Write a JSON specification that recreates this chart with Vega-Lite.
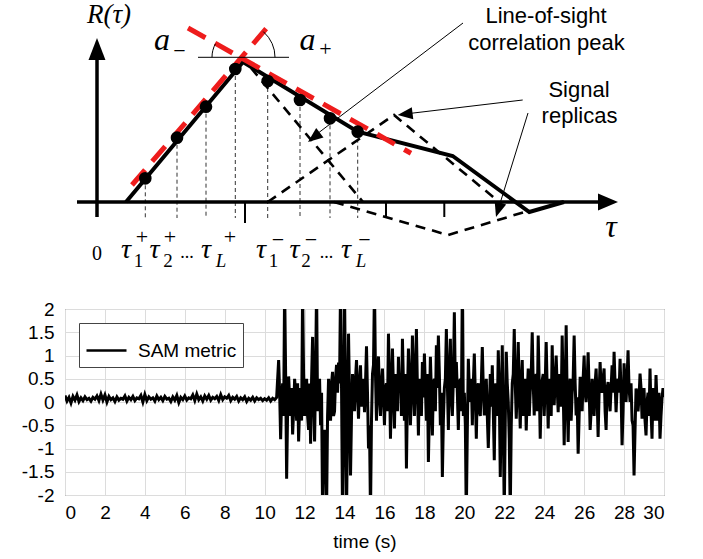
{
"$schema":"https://vega.github.io/schema/vega-lite/v6.json",
"padding":0,
"spacing":24,
"config":{"view":{"stroke":null},"font":"Liberation Sans"},
"resolve":{"legend":{"color":"independent"}},
"datasets":{
"drops":[{"u":48.3,"v":23.7,"v2":-16},{"u":80,"v":64.3,"v2":-16},{"u":109,"v":95.3,"v2":-16},{"u":138.3,"v":133,"v2":-16},{"u":170.7,"v":121,"v2":-16},{"u":203,"v":102,"v2":-16},{"u":233,"v":83.7,"v2":-16},{"u":260.7,"v":70.3,"v2":-16}],
"dots":[{"u":48.3,"v":23.7},{"u":80,"v":64.3},{"u":109,"v":95.3},{"u":138.3,"v":133},{"u":170.7,"v":121},{"u":203,"v":102},{"u":233,"v":83.7},{"u":260.7,"v":70.3}],
"curve":[{"u":29,"v":0},{"u":146,"v":140},{"u":260.7,"v":70.3},{"u":355.7,"v":46},{"u":432.3,"v":-10},{"u":467,"v":0}],
"replica":[{"id":"r1","u":154,"v":134},{"id":"r1","u":266,"v":0},{"id":"r2","u":170.7,"v":0},{"id":"r2","u":297,"v":87},{"id":"r2","u":401,"v":1},{"id":"r3","u":237,"v":0},{"id":"r3","u":351,"v":-33},{"id":"r3","u":431,"v":-9}],
"red":[{"u":35,"v":17,"u2":174,"v2":179},{"u":91,"v":174,"u2":314,"v2":48.7}],
"axes":[{"u":0,"v":-15,"u2":0,"v2":152},{"u":-20,"v":0,"u2":504,"v2":0}],
"ticks":[{"u":148,"v":0,"v2":-21},{"u":289,"v":0,"v2":-15},{"u":347.3,"v":0,"v2":-15}],
"thin":[{"u":366,"v":179,"u2":216,"v2":65},{"u":425.7,"v":102,"u2":308,"v2":88},{"u":431,"v":89,"u2":401,"v2":-8},{"u":101,"v":144.7,"u2":192,"v2":144.7}],
"arcs":[{"id":"l","k":0,"u":115,"v":144.7},{"id":"l","k":1,"u":115.2,"v":148.1},{"id":"l","k":2,"u":115.8,"v":151.5},{"id":"l","k":3,"u":117,"v":155.2},{"id":"l","k":4,"u":118.5,"v":158.3},{"id":"r","k":0,"u":178,"v":144.7},{"id":"r","k":1,"u":177.3,"v":151.8},{"id":"r","k":2,"u":175.1,"v":158.5},{"id":"r","k":3,"u":171.5,"v":164.7},{"id":"r","k":4,"u":166.3,"v":170.4}],
"heads":[{"id":"up","u":0,"v":153},{"id":"right","u":511,"v":0},{"id":"a1","u":308.1,"v":87.9},{"id":"a2","u":401.2,"v":-7.8},{"id":"a3","u":216.9,"v":64.6}],
"txt":[
{"g":"R","u":12,"v":178.7,"t":"R(τ)"},
{"g":"a","u":65,"v":152,"t":"a"},{"g":"a","u":210.5,"v":152,"t":"a"},
{"g":"asub","u":82.5,"v":151,"t":"−"},{"g":"asub","u":228.5,"v":153,"t":"+"},
{"g":"zero","u":0,"v":-58,"t":"0"},
{"g":"tau","u":29,"v":-56,"t":"τ"},{"g":"tau","u":57.5,"v":-56,"t":"τ"},{"g":"tau","u":109,"v":-56,"t":"τ"},{"g":"tau","u":164,"v":-56,"t":"τ"},{"g":"tau","u":197.5,"v":-56,"t":"τ"},{"g":"tau","u":249,"v":-56,"t":"τ"},
{"g":"sub","u":41.5,"v":-65,"t":"1"},{"g":"sub","u":71,"v":-65,"t":"2"},{"g":"sub","u":176.5,"v":-65,"t":"1"},{"g":"sub","u":209,"v":-65,"t":"2"},
{"g":"subL","u":124,"v":-65,"t":"L"},{"g":"subL","u":264,"v":-65,"t":"L"},
{"g":"sup","u":45,"v":-34.5,"t":"+"},{"g":"sup","u":73,"v":-34.5,"t":"+"},{"g":"sup","u":133,"v":-34.5,"t":"+"},{"g":"sup","u":181,"v":-38,"t":"−"},{"g":"sup","u":214,"v":-38,"t":"−"},{"g":"sup","u":267.5,"v":-38,"t":"−"},
{"g":"dd","u":90,"v":-56,"t":"..."},{"g":"dd","u":229.5,"v":-56,"t":"..."},
{"g":"tauax","u":514,"v":-34.7,"t":"τ"},
{"g":"sans","u":449,"v":178.7,"t":"Line-of-sight"},{"g":"sans","u":449.5,"v":152,"t":"correlation peak"},{"g":"sans","u":482,"v":105.3,"t":"Signal"},{"g":"sans","u":482.5,"v":78.7,"t":"replicas"}
],
"sam":[
{"t":0.0,"y":0.14},{"t":0.1,"y":0.02},{"t":0.2,"y":0.10},{"t":0.3,"y":-0.02},{"t":0.4,"y":0.12},{"t":0.5,"y":0.04},{"t":0.6,"y":0.15},{"t":0.7,"y":0.01},{"t":0.8,"y":0.09},{"t":0.9,"y":0.03},
{"t":1.0,"y":0.11},{"t":1.1,"y":0.05},{"t":1.2,"y":0.08},{"t":1.3,"y":0.02},{"t":1.4,"y":0.10},{"t":1.5,"y":0.06},{"t":1.6,"y":0.13},{"t":1.7,"y":0.03},{"t":1.8,"y":0.17},{"t":1.9,"y":0.04},
{"t":2.0,"y":0.15},{"t":2.1,"y":0.00},{"t":2.2,"y":0.12},{"t":2.3,"y":0.05},{"t":2.4,"y":0.09},{"t":2.5,"y":0.01},{"t":2.6,"y":0.11},{"t":2.7,"y":0.04},{"t":2.8,"y":0.08},{"t":2.9,"y":0.06},
{"t":3.0,"y":0.13},{"t":3.1,"y":0.02},{"t":3.2,"y":0.10},{"t":3.3,"y":0.05},{"t":3.4,"y":0.12},{"t":3.5,"y":0.03},{"t":3.6,"y":0.09},{"t":3.7,"y":0.07},{"t":3.8,"y":0.14},{"t":3.9,"y":0.00},
{"t":4.0,"y":0.16},{"t":4.1,"y":0.03},{"t":4.2,"y":0.11},{"t":4.3,"y":0.06},{"t":4.4,"y":0.09},{"t":4.5,"y":0.02},{"t":4.6,"y":0.13},{"t":4.7,"y":0.05},{"t":4.8,"y":0.10},{"t":4.9,"y":0.03},
{"t":5.0,"y":0.12},{"t":5.1,"y":0.06},{"t":5.2,"y":0.08},{"t":5.3,"y":0.01},{"t":5.4,"y":0.11},{"t":5.5,"y":0.04},{"t":5.6,"y":0.14},{"t":5.7,"y":-0.01},{"t":5.8,"y":0.10},{"t":5.9,"y":0.05},
{"t":6.0,"y":0.13},{"t":6.1,"y":0.04},{"t":6.2,"y":0.09},{"t":6.3,"y":0.07},{"t":6.4,"y":0.15},{"t":6.5,"y":0.03},{"t":6.6,"y":0.17},{"t":6.7,"y":0.05},{"t":6.8,"y":0.11},{"t":6.9,"y":0.02},
{"t":7.0,"y":0.13},{"t":7.1,"y":0.06},{"t":7.2,"y":0.14},{"t":7.3,"y":0.04},{"t":7.4,"y":0.10},{"t":7.5,"y":0.07},{"t":7.6,"y":0.12},{"t":7.7,"y":0.03},{"t":7.8,"y":0.16},{"t":7.9,"y":0.05},
{"t":8.0,"y":0.11},{"t":8.1,"y":0.08},{"t":8.2,"y":0.14},{"t":8.3,"y":0.03},{"t":8.4,"y":0.10},{"t":8.5,"y":0.06},{"t":8.6,"y":0.12},{"t":8.7,"y":0.02},{"t":8.8,"y":0.09},{"t":8.9,"y":0.05},
{"t":9.0,"y":0.11},{"t":9.1,"y":0.01},{"t":9.2,"y":0.08},{"t":9.3,"y":0.04},{"t":9.4,"y":0.10},{"t":9.5,"y":0.02},{"t":9.6,"y":0.09},{"t":9.7,"y":0.05},{"t":9.8,"y":0.08},{"t":9.9,"y":0.03},
{"t":10.0,"y":0.07},{"t":10.1,"y":0.04},{"t":10.2,"y":0.09},{"t":10.3,"y":0.02},{"t":10.4,"y":0.08},{"t":10.5,"y":0.05},{"t":10.6,"y":0.10},
{"t":10.7,"y":0.9},{"t":10.8,"y":-0.8},{"t":10.9,"y":0.4},
{"t":11.0,"y":2.5},{"t":11.1,"y":-1.65},{"t":11.2,"y":0.55},{"t":11.3,"y":-0.3},{"t":11.4,"y":-0.7},{"t":11.5,"y":0.5},{"t":11.6,"y":-0.4},{"t":11.7,"y":-0.85},{"t":11.8,"y":0.3},{"t":11.9,"y":2.4},
{"t":12.0,"y":-0.3},{"t":12.1,"y":0.5},{"t":12.2,"y":-0.6},{"t":12.3,"y":-0.9},{"t":12.4,"y":1.4},{"t":12.5,"y":-0.85},{"t":12.6,"y":2.5},{"t":12.7,"y":0.3},{"t":12.8,"y":-0.5},{"t":12.9,"y":-2.4},
{"t":13.0,"y":-0.6},{"t":13.1,"y":-2.4},{"t":13.2,"y":0.5},{"t":13.3,"y":-0.4},{"t":13.4,"y":0.65},{"t":13.5,"y":-0.2},{"t":13.6,"y":0.8},{"t":13.7,"y":0.85},{"t":13.8,"y":2.5},{"t":13.9,"y":-2.5},
{"t":14.0,"y":2.4},{"t":14.1,"y":-2.4},{"t":14.2,"y":1.47},{"t":14.3,"y":-1.58},{"t":14.4,"y":0.6},{"t":14.5,"y":-0.2},{"t":14.6,"y":0.9},{"t":14.7,"y":-0.36},{"t":14.8,"y":0.79},{"t":14.9,"y":0.3},
{"t":15.0,"y":-0.22},{"t":15.1,"y":1.2},{"t":15.2,"y":-1.0},{"t":15.3,"y":-2.4},{"t":15.4,"y":0.6},{"t":15.5,"y":2.5},{"t":15.6,"y":-0.4},{"t":15.7,"y":0.98},{"t":15.8,"y":-0.3},{"t":15.9,"y":0.72},
{"t":16.0,"y":-0.5},{"t":16.1,"y":0.4},{"t":16.2,"y":1.47},{"t":16.3,"y":-0.79},{"t":16.4,"y":1.15},{"t":16.5,"y":-0.57},{"t":16.6,"y":0.3},{"t":16.7,"y":0.97},{"t":16.8,"y":0.5},{"t":16.9,"y":1.36},
{"t":17.0,"y":-0.4},{"t":17.1,"y":-1.43},{"t":17.2,"y":1.15},{"t":17.3,"y":-0.5},{"t":17.4,"y":1.43},{"t":17.5,"y":-0.3},{"t":17.6,"y":1.57},{"t":17.7,"y":-0.72},{"t":17.8,"y":0.4},{"t":17.9,"y":0.86},
{"t":18.0,"y":1.04},{"t":18.1,"y":-0.4},{"t":18.2,"y":-1.29},{"t":18.3,"y":0.97},{"t":18.4,"y":-0.72},{"t":18.5,"y":0.5},{"t":18.6,"y":1.22},{"t":18.7,"y":1.43},{"t":18.8,"y":-0.5},{"t":18.9,"y":-1.61},
{"t":19.0,"y":0.3},{"t":19.1,"y":1.57},{"t":19.2,"y":-0.6},{"t":19.3,"y":1.36},{"t":19.4,"y":-0.3},{"t":19.5,"y":1.93},{"t":19.6,"y":0.86},{"t":19.7,"y":-0.6},{"t":19.8,"y":0.5},{"t":19.9,"y":2.5},
{"t":20.0,"y":0.2},{"t":20.1,"y":-2.4},{"t":20.2,"y":0.93},{"t":20.3,"y":0.0},{"t":20.4,"y":-0.5},{"t":20.5,"y":1.04},{"t":20.6,"y":-0.79},{"t":20.7,"y":0.4},{"t":20.8,"y":-0.3},{"t":20.9,"y":1.18},
{"t":21.0,"y":-0.29},{"t":21.1,"y":0.5},{"t":21.2,"y":-0.99},{"t":21.3,"y":0.6},{"t":21.4,"y":0.79},{"t":21.5,"y":-1.25},{"t":21.6,"y":0.3},{"t":21.7,"y":1.11},{"t":21.8,"y":-1.61},{"t":21.9,"y":1.22},
{"t":22.0,"y":-2.4},{"t":22.1,"y":1.08},{"t":22.2,"y":0.0},{"t":22.3,"y":-2.4},{"t":22.4,"y":0.4},{"t":22.5,"y":1.57},{"t":22.6,"y":-0.36},{"t":22.7,"y":1.29},{"t":22.8,"y":-0.57},{"t":22.9,"y":0.9},
{"t":23.0,"y":0.2},{"t":23.1,"y":-0.61},{"t":23.2,"y":0.72},{"t":23.3,"y":0.22},{"t":23.4,"y":1.5},{"t":23.5,"y":-0.29},{"t":23.6,"y":0.6},{"t":23.7,"y":1.43},{"t":23.8,"y":-0.79},{"t":23.9,"y":0.47},
{"t":24.0,"y":-0.3},{"t":24.1,"y":1.29},{"t":24.2,"y":-0.57},{"t":24.3,"y":0.4},{"t":24.4,"y":1.22},{"t":24.5,"y":-0.07},{"t":24.6,"y":1.0},{"t":24.7,"y":-0.22},{"t":24.8,"y":0.5},{"t":24.9,"y":1.43},
{"t":25.0,"y":-0.93},{"t":25.1,"y":1.65},{"t":25.2,"y":-0.86},{"t":25.3,"y":0.5},{"t":25.4,"y":0.2},{"t":25.5,"y":1.43},{"t":25.6,"y":-0.29},{"t":25.7,"y":-1.11},{"t":25.8,"y":0.54},{"t":25.9,"y":-0.2},
{"t":26.0,"y":1.0},{"t":26.1,"y":0.0},{"t":26.2,"y":1.07},{"t":26.3,"y":-0.6},{"t":26.4,"y":0.5},{"t":26.5,"y":-0.3},{"t":26.6,"y":0.72},{"t":26.7,"y":-0.75},{"t":26.8,"y":0.86},{"t":26.9,"y":0.2},
{"t":27.0,"y":0.72},{"t":27.1,"y":-0.6},{"t":27.2,"y":0.43},{"t":27.3,"y":-0.2},{"t":27.4,"y":0.79},{"t":27.5,"y":1.08},{"t":27.6,"y":-0.22},{"t":27.7,"y":0.5},{"t":27.8,"y":0.93},{"t":27.9,"y":-0.93},
{"t":28.0,"y":0.83},{"t":28.1,"y":0.0},{"t":28.2,"y":1.11},{"t":28.3,"y":0.0},{"t":28.4,"y":-0.4},{"t":28.5,"y":-1.58},{"t":28.6,"y":0.29},{"t":28.7,"y":-0.2},{"t":28.8,"y":0.61},{"t":28.9,"y":-0.36},
{"t":29.0,"y":0.3},{"t":29.1,"y":-0.72},{"t":29.2,"y":0.2},{"t":29.3,"y":0.72},{"t":29.4,"y":-0.79},{"t":29.5,"y":0.1},{"t":29.6,"y":0.58},{"t":29.7,"y":-0.4},{"t":29.8,"y":-0.79},{"t":29.9,"y":0.08},
{"t":30.0,"y":0.1},
{"t":10.75,"y":0.2},{"t":10.85,"y":0.1},{"t":10.95,"y":-0.3},{"t":11.05,"y":0.6},{"t":11.15,"y":-0.2},{"t":11.25,"y":0.1},{"t":11.35,"y":0.3},{"t":11.45,"y":-0.2},{"t":11.55,"y":0.2},{"t":11.65,"y":0.4},
{"t":11.75,"y":-0.1},{"t":11.85,"y":-0.4},{"t":11.95,"y":0.6},{"t":12.05,"y":0.2},{"t":12.15,"y":-0.3},{"t":12.25,"y":0.4},{"t":12.35,"y":0.5},{"t":12.45,"y":0.1},{"t":12.55,"y":0.6},{"t":12.65,"y":-0.2},
{"t":12.75,"y":0.5},{"t":12.85,"y":0.2},{"t":12.95,"y":-0.9},{"t":13.05,"y":-1.2},{"t":13.15,"y":-0.3},{"t":13.25,"y":0.2},{"t":13.35,"y":0.4},{"t":13.45,"y":-0.3},{"t":13.55,"y":0.5},{"t":13.65,"y":0.2},
{"t":13.75,"y":0.4},{"t":13.85,"y":0.3},{"t":13.95,"y":-0.6},{"t":14.05,"y":0.2},{"t":14.15,"y":-0.5},{"t":14.25,"y":0.1},{"t":14.35,"y":-0.3},{"t":14.45,"y":0.3},{"t":14.55,"y":0.5},{"t":14.65,"y":0.2},
{"t":14.75,"y":0.4},{"t":14.85,"y":-0.1},{"t":14.95,"y":0.5},{"t":15.05,"y":0.4},{"t":15.15,"y":0.2},{"t":15.25,"y":-0.5},{"t":15.35,"y":-0.4},{"t":15.45,"y":0.8},{"t":15.55,"y":0.6},{"t":15.65,"y":0.5},
{"t":15.75,"y":0.1},{"t":15.85,"y":0.4},{"t":15.95,"y":0.1},{"t":16.05,"y":0.3},{"t":16.15,"y":-0.2},{"t":16.25,"y":0.5},{"t":16.35,"y":0.2},{"t":16.45,"y":0.3},{"t":16.55,"y":0.6},{"t":16.65,"y":-0.2},
{"t":16.75,"y":0.3},{"t":16.85,"y":-0.3},{"t":16.95,"y":0.4},{"t":17.05,"y":0.6},{"t":17.15,"y":0.1},{"t":17.25,"y":0.5},{"t":17.35,"y":0.2},{"t":17.45,"y":0.5},{"t":17.55,"y":0.6},{"t":17.65,"y":0.3},
{"t":17.75,"y":0.5},{"t":17.85,"y":-0.3},{"t":17.95,"y":0.1},{"t":18.05,"y":0.3},{"t":18.15,"y":0.6},{"t":18.25,"y":-0.2},{"t":18.35,"y":0.2},{"t":18.45,"y":0.4},{"t":18.55,"y":-0.2},{"t":18.65,"y":0.3},
{"t":18.75,"y":0.6},{"t":18.85,"y":0.2},{"t":18.95,"y":-0.4},{"t":19.05,"y":0.5},{"t":19.15,"y":0.4},{"t":19.25,"y":0.6},{"t":19.35,"y":0.1},{"t":19.45,"y":0.5},{"t":19.55,"y":0.3},{"t":19.65,"y":0.2},
{"t":19.75,"y":0.4},{"t":19.85,"y":-0.2},{"t":19.95,"y":-0.3},{"t":20.05,"y":-0.5},{"t":20.15,"y":-0.6},{"t":20.25,"y":0.3},{"t":20.35,"y":0.5},{"t":20.45,"y":0.4},{"t":20.55,"y":0.2},{"t":20.65,"y":0.3},
{"t":20.75,"y":-0.2},{"t":20.85,"y":0.4},{"t":20.95,"y":0.3},{"t":21.05,"y":0.2},{"t":21.15,"y":-0.3},{"t":21.25,"y":-0.2},{"t":21.35,"y":-0.1},{"t":21.45,"y":-0.2},{"t":21.55,"y":0.4},{"t":21.65,"y":-0.3},
{"t":21.75,"y":0.2},{"t":21.85,"y":-0.1},{"t":21.95,"y":-0.5},{"t":22.05,"y":-0.4},{"t":22.15,"y":0.4},{"t":22.25,"y":-0.8},{"t":22.35,"y":-0.5},{"t":22.45,"y":0.6},{"t":22.55,"y":0.4},{"t":22.65,"y":0.3},
{"t":22.75,"y":0.2},{"t":22.85,"y":0.4},{"t":22.95,"y":-0.3},{"t":23.05,"y":0.5},{"t":23.15,"y":0.2},{"t":23.25,"y":-0.3},{"t":23.35,"y":0.6},{"t":23.45,"y":0.4},{"t":23.55,"y":0.5},{"t":23.65,"y":-0.2},
{"t":23.75,"y":0.4},{"t":23.85,"y":0.2},{"t":23.95,"y":0.6},{"t":24.05,"y":0.4},{"t":24.15,"y":0.3},{"t":24.25,"y":0.5},{"t":24.35,"y":-0.3},{"t":24.45,"y":0.2},{"t":24.55,"y":0.5},{"t":24.65,"y":0.3},
{"t":24.75,"y":0.6},{"t":24.85,"y":-0.1},{"t":24.95,"y":0.3},{"t":25.05,"y":0.2},{"t":25.15,"y":0.1},{"t":25.25,"y":0.3},{"t":25.35,"y":-0.4},{"t":25.45,"y":0.5},{"t":25.55,"y":0.4},{"t":25.65,"y":0.1},
{"t":25.75,"y":-0.3},{"t":25.85,"y":0.4},{"t":25.95,"y":0.5},{"t":26.05,"y":0.2},{"t":26.15,"y":0.4},{"t":26.25,"y":0.3},{"t":26.35,"y":-0.2},{"t":26.45,"y":0.2},{"t":26.55,"y":0.4},{"t":26.65,"y":0.1},
{"t":26.75,"y":0.2},{"t":26.85,"y":0.3},{"t":26.95,"y":0.5},{"t":27.05,"y":-0.2},{"t":27.15,"y":0.3},{"t":27.25,"y":0.1},{"t":27.35,"y":0.3},{"t":27.45,"y":0.2},{"t":27.55,"y":0.4},{"t":27.65,"y":0.3},
{"t":27.75,"y":0.2},{"t":27.85,"y":0.2},{"t":27.95,"y":-0.2},{"t":28.05,"y":0.4},{"t":28.15,"y":0.5},{"t":28.25,"y":0.3},{"t":28.35,"y":0.4},{"t":28.45,"y":-0.5},{"t":28.55,"y":-0.6},{"t":28.65,"y":0.2},
{"t":28.75,"y":0.1},{"t":28.85,"y":0.3},{"t":28.95,"y":-0.1},{"t":29.05,"y":-0.4},{"t":29.15,"y":0.0},{"t":29.25,"y":-0.3},{"t":29.35,"y":-0.2},{"t":29.45,"y":0.3},{"t":29.55,"y":-0.4},{"t":29.65,"y":0.0},
{"t":29.75,"y":0.2},{"t":29.85,"y":-0.3},{"t":29.95,"y":0.3}
]
},
"vconcat":[
{
"width":639,"height":275,
"encoding":{
"x":{"field":"u","type":"quantitative","scale":{"domain":[-32,607],"nice":false,"zero":false},"axis":null},
"y":{"field":"v","type":"quantitative","scale":{"domain":[-73,202],"nice":false,"zero":false},"axis":null}
},
"layer":[
{"data":{"name":"drops"},"mark":{"type":"rule","color":"#333","strokeWidth":1,"strokeDash":[4,3]},"encoding":{"y2":{"field":"v2"}}},
{"data":{"name":"replica"},"mark":{"type":"line","color":"black","strokeWidth":2.6,"strokeDash":[10,7]},"encoding":{"detail":{"field":"id"}}},
{"data":{"name":"axes"},"mark":{"type":"rule","color":"black","strokeWidth":3.5},"encoding":{"x2":{"field":"u2"},"y2":{"field":"v2"}}},
{"data":{"name":"ticks"},"mark":{"type":"rule","color":"black","strokeWidth":2},"encoding":{"y2":{"field":"v2"}}},
{"data":{"name":"curve"},"mark":{"type":"line","color":"black","strokeWidth":4,"strokeJoin":"miter"}},
{"data":{"name":"red"},"mark":{"type":"rule","color":"#ee1c1c","strokeWidth":5,"strokeDash":[20,11]},"encoding":{"x2":{"field":"u2"},"y2":{"field":"v2"}}},
{"data":{"name":"dots"},"mark":{"type":"point","filled":true,"color":"black","opacity":1,"size":160}},
{"data":{"name":"thin"},"mark":{"type":"rule","color":"black","strokeWidth":1},"encoding":{"x2":{"field":"u2"},"y2":{"field":"v2"}}},
{"data":{"name":"arcs"},"mark":{"type":"line","color":"black","strokeWidth":1},"encoding":{"detail":{"field":"id"},"order":{"field":"k"}}},
{"data":{"name":"heads"},"transform":[{"filter":"datum.id==='up'"}],"mark":{"type":"point","shape":"M0,-1L-0.77,1L0.77,1Z","size":484,"filled":true,"color":"black","opacity":1,"strokeWidth":0}},
{"data":{"name":"heads"},"transform":[{"filter":"datum.id==='right'"}],"mark":{"type":"point","shape":"M1,0L-1,-0.85L-1,0.85Z","size":400,"filled":true,"color":"black","opacity":1,"strokeWidth":0}},
{"data":{"name":"heads"},"transform":[{"filter":"datum.id==='a1'"}],"mark":{"type":"point","shape":"M0,-1L-0.8,1L0.8,1Z","size":225,"angle":263,"filled":true,"color":"black","opacity":1,"strokeWidth":0}},
{"data":{"name":"heads"},"transform":[{"filter":"datum.id==='a2'"}],"mark":{"type":"point","shape":"M0,-1L-0.8,1L0.8,1Z","size":225,"angle":197,"filled":true,"color":"black","opacity":1,"strokeWidth":0}},
{"data":{"name":"heads"},"transform":[{"filter":"datum.id==='a3'"}],"mark":{"type":"point","shape":"M0,-1L-0.8,1L0.8,1Z","size":225,"angle":232.5,"filled":true,"color":"black","opacity":1,"strokeWidth":0}},
{"data":{"name":"txt"},"transform":[{"filter":"datum.g==='R'"}],"mark":{"type":"text","font":"Liberation Serif","fontStyle":"italic","fontSize":27,"baseline":"alphabetic","align":"center","color":"black"},"encoding":{"text":{"field":"t"}}},
{"data":{"name":"txt"},"transform":[{"filter":"datum.g==='a'"}],"mark":{"type":"text","font":"Liberation Serif","fontStyle":"italic","fontSize":32,"baseline":"alphabetic","align":"center","color":"black"},"encoding":{"text":{"field":"t"}}},
{"data":{"name":"txt"},"transform":[{"filter":"datum.g==='asub'"}],"mark":{"type":"text","font":"Liberation Serif","fontSize":22,"baseline":"middle","align":"center","color":"black"},"encoding":{"text":{"field":"t"}}},
{"data":{"name":"txt"},"transform":[{"filter":"datum.g==='zero'"}],"mark":{"type":"text","font":"Liberation Serif","fontSize":20,"baseline":"alphabetic","align":"center","color":"black"},"encoding":{"text":{"field":"t"}}},
{"data":{"name":"txt"},"transform":[{"filter":"datum.g==='tau'"}],"mark":{"type":"text","font":"Liberation Serif","fontStyle":"italic","fontSize":28,"baseline":"alphabetic","align":"center","color":"black"},"encoding":{"text":{"field":"t"}}},
{"data":{"name":"txt"},"transform":[{"filter":"datum.g==='sub'"}],"mark":{"type":"text","font":"Liberation Serif","fontSize":19,"baseline":"alphabetic","align":"center","color":"black"},"encoding":{"text":{"field":"t"}}},
{"data":{"name":"txt"},"transform":[{"filter":"datum.g==='subL'"}],"mark":{"type":"text","font":"Liberation Serif","fontStyle":"italic","fontSize":19,"baseline":"alphabetic","align":"center","color":"black"},"encoding":{"text":{"field":"t"}}},
{"data":{"name":"txt"},"transform":[{"filter":"datum.g==='sup'"}],"mark":{"type":"text","font":"Liberation Serif","fontSize":22,"baseline":"middle","align":"center","color":"black"},"encoding":{"text":{"field":"t"}}},
{"data":{"name":"txt"},"transform":[{"filter":"datum.g==='dd'"}],"mark":{"type":"text","font":"Liberation Serif","fontSize":18,"baseline":"alphabetic","align":"center","color":"black"},"encoding":{"text":{"field":"t"}}},
{"data":{"name":"txt"},"transform":[{"filter":"datum.g==='tauax'"}],"mark":{"type":"text","font":"Liberation Serif","fontStyle":"italic","fontSize":32,"baseline":"alphabetic","align":"center","color":"black"},"encoding":{"text":{"field":"t"}}},
{"data":{"name":"txt"},"transform":[{"filter":"datum.g==='sans'"}],"mark":{"type":"text","font":"Liberation Sans","fontSize":22,"baseline":"alphabetic","align":"center","color":"black"},"encoding":{"text":{"field":"t"}}}
]
},
{
"width":599,"height":186,
"view":{"stroke":"#444","strokeWidth":1},
"data":{"name":"sam"},
"mark":{"type":"line","strokeWidth":3,"clip":true},
"encoding":{
"x":{"field":"t","type":"quantitative","scale":{"domain":[0,30],"nice":false,"zero":false},
"axis":{"values":[0,2,4,6,8,10,12,14,16,18,20,22,24,26,28,30],"title":"time (s)","grid":true,"gridColor":"#dcdcdc","ticks":false,"tickSize":0,"domain":false,"labelPadding":8,"labelFontSize":19,"labelFont":"Liberation Sans","labelColor":"black","titleFont":"Liberation Sans","titleFontSize":19,"titleFontWeight":"normal","titleColor":"black","titlePadding":10}},
"y":{"field":"y","type":"quantitative","scale":{"domain":[-2,2],"nice":false,"zero":false},
"axis":{"values":[-2,-1.5,-1,-0.5,0,0.5,1,1.5,2],"title":null,"grid":true,"gridColor":"#dcdcdc","ticks":false,"tickSize":0,"domain":false,"labelPadding":11,"labelFontSize":19,"labelFont":"Liberation Sans","labelColor":"black","labelExpr":"toString(datum.value)","minExtent":64}},
"color":{"datum":"SAM metric","type":"nominal","scale":{"range":["black"]},
"legend":{"title":null,"orient":"top-left","offset":14,"padding":6,"fillColor":"white","strokeColor":"#444","symbolType":"stroke","symbolSize":1600,"symbolStrokeWidth":2.5,"labelFontSize":19,"labelFont":"Liberation Sans","labelColor":"black","labelOffset":10}}
}
}
]
}
